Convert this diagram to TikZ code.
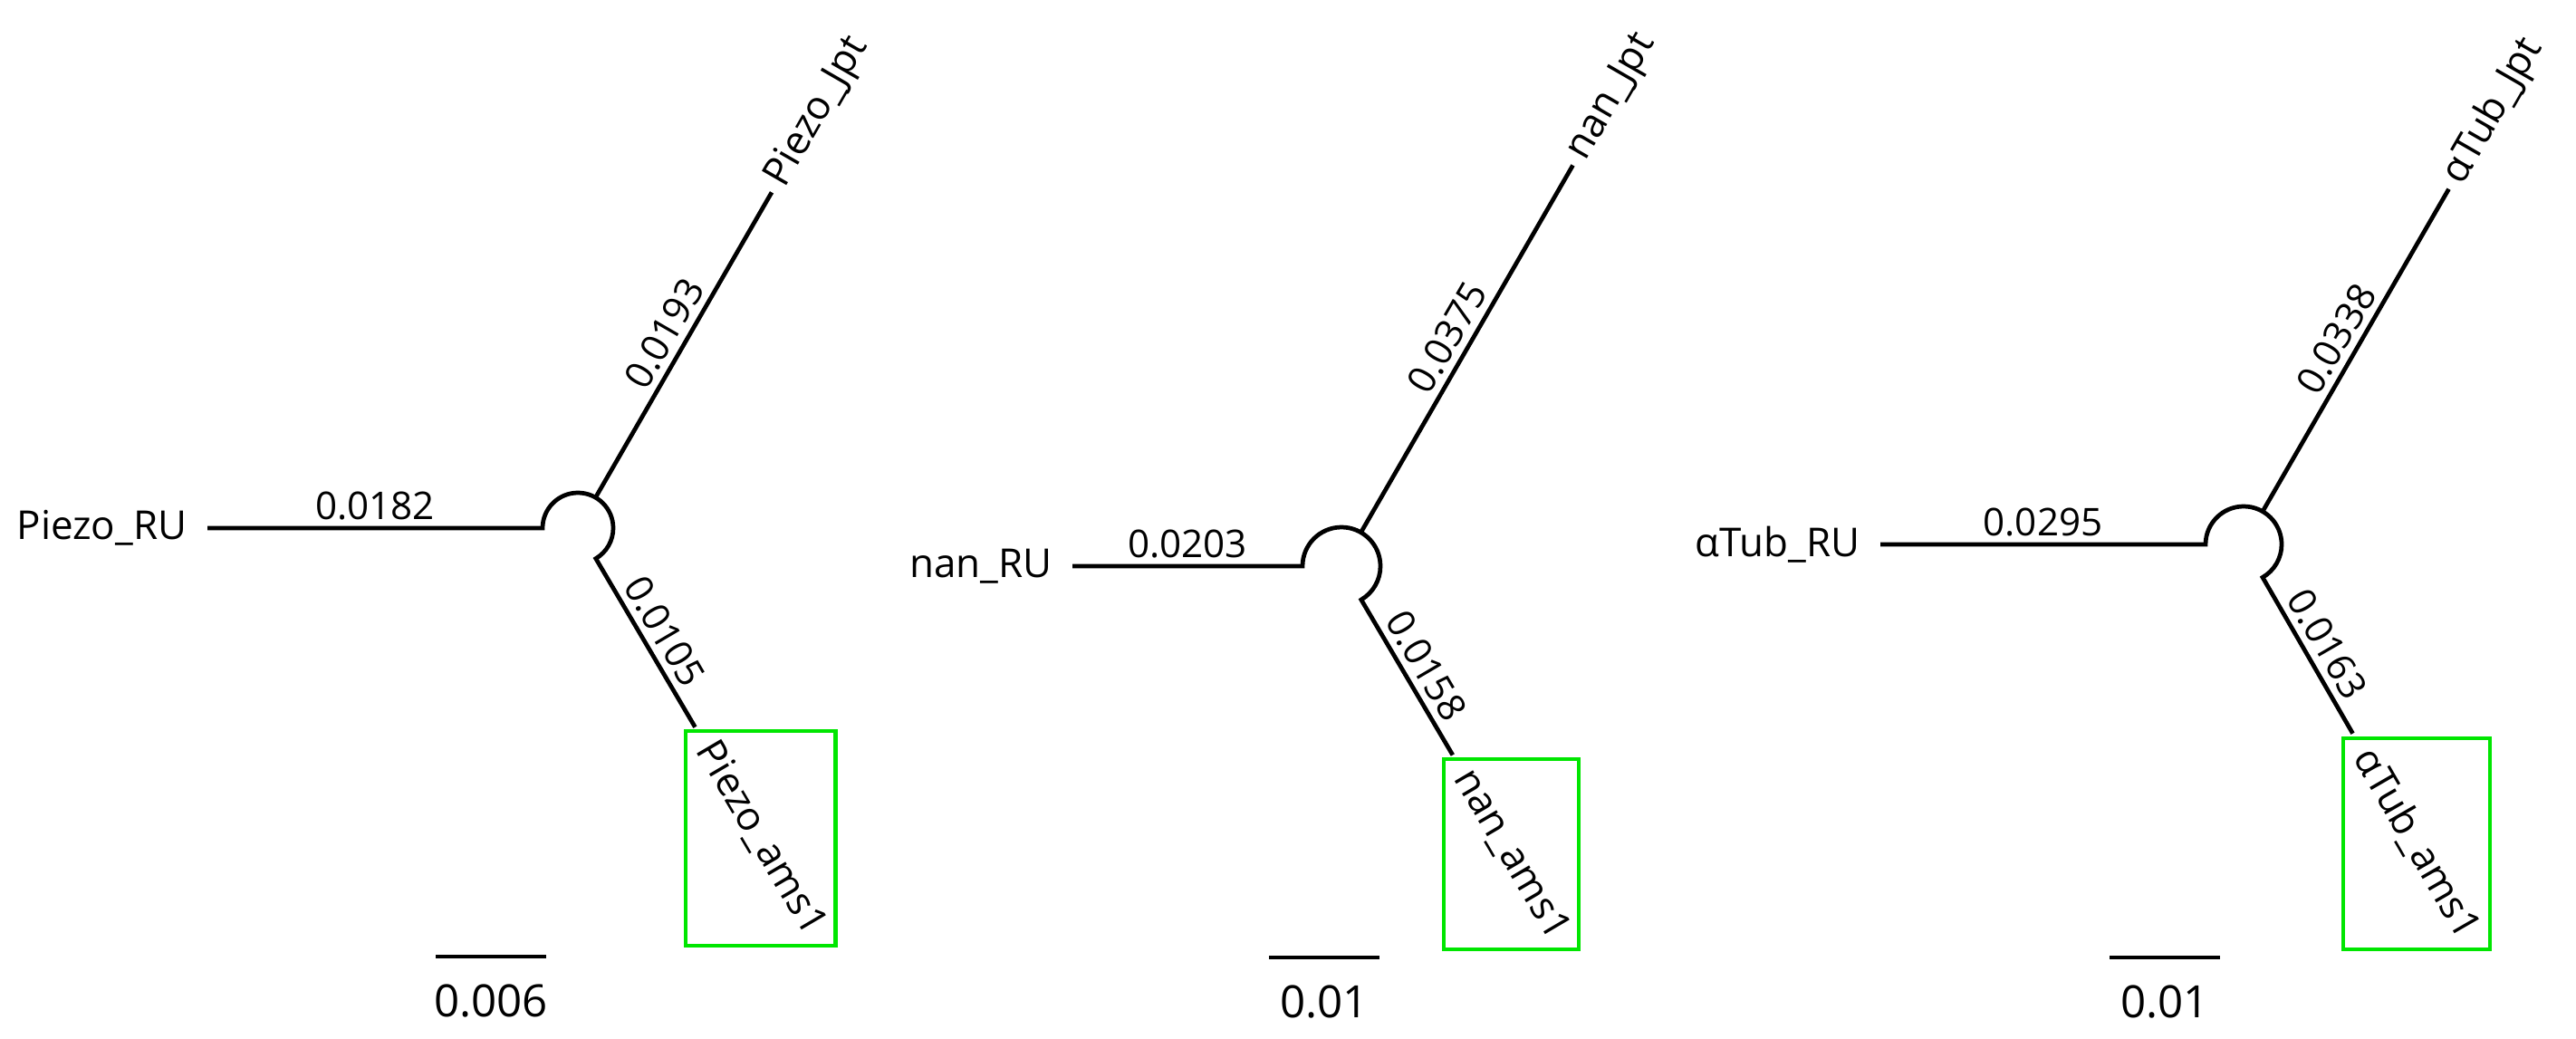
\documentclass[tikz,border=0pt]{standalone}
\usepackage{fontspec}
\setmainfont{Open Sans}
\usetikzlibrary{positioning,calc}
\definecolor{PhyGreen}{HTML}{00E600}
\definecolor{PhyInk}{HTML}{000000}
\tikzset{
  phybranch/.style={draw=PhyInk,line width=1.35pt},
  phytaxon/.style={font=\fontsize{12.5}{15}\selectfont,inner sep=0.1cm},
  phyhit/.style={phytaxon,inner sep=0.03cm},
  phylen/.style={font=\fontsize{12}{14}\selectfont,inner sep=0.07cm},
  phybox/.style={draw=PhyGreen,line width=1.2pt},
  physcale/.style={font=\fontsize{14}{16}\selectfont,inner sep=0.03cm}
}

\begin{document}
\begin{tikzpicture}
  \useasboundingbox (0,0) rectangle (28.44,-11.46);
  % Piezo tree
  \coordinate (c1) at (6.38,-5.83);
  \coordinate (r1) at (2.29,-5.83);
  \coordinate (j1) at ($(c1)+(60:4.28)$);
  \coordinate (a1) at ($(c1)+(-59.5:2.55)$);
  \node[phytaxon,left=0.12cm of r1] (ru1) {Piezo\_RU};
  \node[phytaxon,anchor=west,rotate=60] (jp1) at (j1) {Piezo\_Jpt};
  \node[phyhit,anchor=west,rotate=-59.5] (am1) at ($(c1)+(-59.5:2.74)$) {Piezo\_ams1};
  \draw[phybranch] (r1) -- node[phylen,above] {0.0182} ($(c1)+(180:0.39)$)
    arc[start angle=180,end angle=-59.5,radius=0.39] -- node[phylen,sloped,above] {0.0105} (a1);
  \draw[phybranch] ($(c1)+(60:0.39)$) -- node[phylen,sloped,above] {0.0193} (j1);
  \draw[phybox] (am1.south west |- am1.north west) rectangle (am1.north east |- am1.south east);
  \coordinate (s1a) at (4.81,-10.56);
  \coordinate (s1b) at (6.03,-10.56);
  \draw[phybranch] (s1a) -- node[physcale,below=0.25cm] (sl1) {0.006} (s1b);

  % nan tree
  \coordinate (c2) at (14.81,-6.25);
  \coordinate (r2) at (11.84,-6.25);
  \coordinate (j2) at ($(c2)+(60:5.11)$);
  \coordinate (a2) at ($(c2)+(-59.5:2.42)$);
  \node[phytaxon,left=0.12cm of r2] (ru2) {nan\_RU};
  \node[phytaxon,anchor=west,rotate=60] (jp2) at (j2) {nan\_Jpt};
  \node[phyhit,anchor=west,rotate=-59.5] (am2) at ($(c2)+(-59.5:2.61)$) {nan\_ams1};
  \draw[phybranch] (r2) -- node[phylen,above] {0.0203} ($(c2)+(180:0.43)$)
    arc[start angle=180,end angle=-59.5,radius=0.43] -- node[phylen,sloped,above] {0.0158} (a2);
  \draw[phybranch] ($(c2)+(60:0.43)$) -- node[phylen,sloped,above] {0.0375} (j2);
  \draw[phybox] (am2.south west |- am2.north west) rectangle (am2.north east |- am2.south east);
  \coordinate (s2a) at (14.01,-10.57);
  \coordinate (s2b) at (15.23,-10.57);
  \draw[phybranch] (s2a) -- node[physcale,below=0.25cm] (sl2) {0.01} (s2b);

  % alpha-tubulin tree
  \coordinate (c3) at (24.77,-6.01);
  \coordinate (r3) at (20.76,-6.01);
  \coordinate (j3) at ($(c3)+(60:4.53)$);
  \coordinate (a3) at ($(c3)+(-60:2.41)$);
  \node[phytaxon,left=0.12cm of r3] (ru3) {αTub\_RU};
  \node[phytaxon,anchor=west,rotate=60] (jp3) at (j3) {αTub\_Jpt};
  \node[phyhit,anchor=west,rotate=-60] (am3) at ($(c3)+(-60:2.61)$) {αTub\_ams1};
  \draw[phybranch] (r3) -- node[phylen,above] {0.0295} ($(c3)+(180:0.42)$)
    arc[start angle=180,end angle=-60,radius=0.42] -- node[phylen,sloped,above] {0.0163} (a3);
  \draw[phybranch] ($(c3)+(60:0.42)$) -- node[phylen,sloped,above] {0.0338} (j3);
  \draw[phybox] (am3.south west |- am3.north west) rectangle (am3.north east |- am3.south east);
  \coordinate (s3a) at (23.29,-10.57);
  \coordinate (s3b) at (24.51,-10.57);
  \draw[phybranch] (s3a) -- node[physcale,below=0.25cm] (sl3) {0.01} (s3b);
\end{tikzpicture}
\end{document}
